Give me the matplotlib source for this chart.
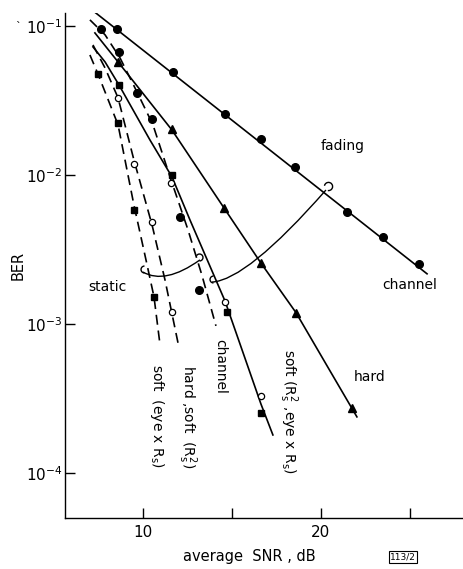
import numpy as np
import matplotlib
matplotlib.use('Agg')
import matplotlib.pyplot as plt
from matplotlib.path import Path
from matplotlib.patches import PathPatch
from matplotlib.markers import MarkerStyle

plt.rcParams['font.family'] = ['DejaVu Sans']
plt.rcParams['mathtext.default'] = 'regular'

# ---------------- data (SNR in dB, BER) ----------------
# fading channel, solid line, filled circles
fade_ch_curve_snr = [7.13, 25.96]
fade_ch_curve_ber = [0.128, 0.00217]
fade_ch_snr = [8.54, 11.69, 14.61, 16.63, 18.54, 21.46, 23.48, 25.51]
fade_ch_ber = [0.0955, 0.0491, 0.0257, 0.0175, 0.0113, 0.00565, 0.00384, 0.00253]

# fading, hard decision (triangles)
fade_hard_curve_snr = [7.30, 8.60, 10.11, 11.63, 14.55, 16.63, 18.60, 20.51, 22.02]
fade_hard_curve_ber = [0.0897, 0.0573, 0.0339, 0.0200, 0.00601, 0.00256, 0.00119, 0.000484, 0.000238]
fade_hard_snr = [8.60, 11.63, 14.55, 16.63, 18.60, 21.74]
fade_hard_ber = [0.0573, 0.0204, 0.00601, 0.00257, 0.00119, 0.000273]

# fading, soft (Rs^2, eye x Rs)
fade_soft_curve_snr = [7.19, 7.87, 8.65, 10.39, 11.63, 12.64, 14.61, 16.63, 17.30]
fade_soft_curve_ber = [0.0723, 0.0573, 0.0402, 0.01718, 0.00970, 0.00499, 0.001425, 0.000290, 0.000180]
fade_soft_rs2_snr = [11.57, 14.61, 16.63]
fade_soft_rs2_ber = [0.00883, 0.001406, 0.000329]
fade_soft_eye_snr = [8.65, 11.63, 14.72, 16.63]
fade_soft_eye_ber = [0.0402, 0.0100, 0.001205, 0.000253]

# static channel, dashed, filled circles
stat_ch_curve_snr = [7.02, 7.87, 8.71, 9.66, 10.56, 11.52, 12.53, 13.31, 14.10]
stat_ch_curve_ber = [0.1097, 0.0871, 0.0610, 0.0361, 0.0217, 0.00970, 0.00428, 0.00213, 0.000971]
stat_ch_snr = [7.64, 8.65, 9.66, 10.51, 12.08, 13.15]
stat_ch_ber = [0.0955, 0.0670, 0.0355, 0.0238, 0.00522, 0.00169]

# static, hard / soft (Rs^2), open circles
stat_hs_curve_snr = [7.19, 7.87, 8.60, 9.49, 10.51, 11.24, 11.97]
stat_hs_curve_ber = [0.0745, 0.0522, 0.0329, 0.01262, 0.00462, 0.00197, 0.000745]
stat_hs_snr = [8.60, 9.49, 10.51, 11.63]
stat_hs_ber = [0.0329, 0.01186, 0.00484, 0.001205]

# static, soft (eye x Rs), filled squares
stat_soft_curve_snr = [7.02, 7.47, 8.60, 9.49, 10.17, 10.62, 10.96]
stat_soft_curve_ber = [0.0638, 0.0476, 0.0217, 0.00630, 0.00269, 0.00152, 0.000723]
stat_soft_snr = [7.47, 8.60, 9.49, 10.62]
stat_soft_ber = [0.0476, 0.0223, 0.00582, 0.00152]

# group brackets (start, control, end)
static_bracket_snr = [10.0, 11.24, 13.20]
static_bracket_ber = [0.00223, 0.00183, 0.00269]
fading_bracket_snr = [13.88, 15.84, 20.28]
fading_bracket_ber = [0.00191, 0.00197, 0.00792]

x_ticks = [10, 15, 20, 25]
x_ticklabels = ['10', '', '20', '']
y_ticks = [1e-1, 1e-2, 1e-3, 1e-4]
y_ticklabels = ['$10^{-1}$', '$10^{-2}$', '$10^{-3}$', '$10^{-4}$']

# ---------------- figure ----------------
fig = plt.figure(figsize=(4.64, 5.69), dpi=100)
ax = fig.add_axes([65/464, 1-518/569, (463-65)/464, (518-13)/569])
ax.set_yscale('log')
ax.set_xlim(5.62, 27.98)
ax.set_ylim(4.99e-5, 0.122)

lw = 1.2
dash = (0, (6, 3.5))
k = 'black'

ax.plot(fade_ch_curve_snr, fade_ch_curve_ber, color=k, lw=lw)
ax.plot(fade_hard_curve_snr, fade_hard_curve_ber, color=k, lw=lw)
ax.plot(fade_soft_curve_snr, fade_soft_curve_ber, color=k, lw=lw)
ax.plot(stat_ch_curve_snr, stat_ch_curve_ber, color=k, lw=lw, ls=dash)
ax.plot(stat_hs_curve_snr, stat_hs_curve_ber, color=k, lw=lw, ls=dash)
ax.plot(stat_soft_curve_snr, stat_soft_curve_ber, color=k, lw=lw, ls=dash)

ax.plot(fade_ch_snr, fade_ch_ber, 'o', color=k, ms=5.5, ls='none')
ax.plot(stat_ch_snr, stat_ch_ber, 'o', color=k, ms=5.5, ls='none')
ax.plot(fade_hard_snr, fade_hard_ber, '^', color=k, ms=6, ls='none')
ax.plot(fade_soft_eye_snr, fade_soft_eye_ber, 's', color=k, ms=5, ls='none')
ax.plot(stat_soft_snr, stat_soft_ber, 's', color=k, ms=5, ls='none')
ax.plot(fade_soft_rs2_snr, fade_soft_rs2_ber, 'o', mfc='white', mec=k, mew=0.9, ms=4.5, ls='none')
ax.plot(stat_hs_snr, stat_hs_ber, 'o', mfc='white', mec=k, mew=0.9, ms=4.5, ls='none')

# brackets
for bx, by in [(static_bracket_snr, static_bracket_ber), (fading_bracket_snr, fading_bracket_ber)]:
    p = Path(list(zip(bx, by)), [Path.MOVETO, Path.CURVE3, Path.CURVE3])
    ax.add_patch(PathPatch(p, transform=ax.transData, fill=False, lw=1.0, ec=k))

def hook(x, y, t1, t2, size=5):
    m = MarkerStyle(Path.arc(t1, t2))
    ax.plot([x], [y], marker=m, ms=size, mfc='none', mec=k, mew=1.0, ls='none')

hook(static_bracket_snr[0] + 0.05, static_bracket_ber[0] * 1.05, 90, 270, 5)
hook(static_bracket_snr[2] - 0.05, static_bracket_ber[2] * 1.05, -90, 150, 5)
hook(fading_bracket_snr[0] + 0.05, fading_bracket_ber[0] * 1.05, 90, 270, 5)
hook(fading_bracket_snr[2] + 0.12, fading_bracket_ber[2] * 1.07, -100, 170, 6)

# ticks & spines
ax.set_xticks(x_ticks)
ax.set_xticklabels(x_ticklabels)
ax.set_yticks(y_ticks)
ax.set_yticklabels(y_ticklabels)
ax.yaxis.set_minor_locator(matplotlib.ticker.NullLocator())
ax.xaxis.set_minor_locator(matplotlib.ticker.NullLocator())
ax.tick_params(axis='both', direction='in', length=7, width=1.0, labelsize=11, colors=k)
ax.tick_params(axis='y', pad=2)
ax.tick_params(axis='x', pad=5)
for s in ['top', 'right']:
    ax.spines[s].set_visible(False)
for s in ['left', 'bottom']:
    ax.spines[s].set_linewidth(1.0)

# labels in plot
fs = 10
ax.text(21.24, 0.0157, 'fading', fontsize=fs, ha='center', va='center')
ax.text(25.0, 0.00183, 'channel', fontsize=fs, ha='center', va='center')
ax.text(7.98, 0.00177, 'static', fontsize=fs, ha='center', va='center')
ax.text(22.75, 0.00044, 'hard', fontsize=fs, ha='center', va='center')
ax.text(10.79, 0.000242, 'soft  (eye x R$_s$)', fontsize=fs, rotation=270, ha='center', va='center')
ax.text(12.47, 0.000238, 'hard ,soft  (R$_s^2$)', fontsize=fs, rotation=270, ha='center', va='center')
ax.text(14.33, 0.000522, 'channel', fontsize=fs, rotation=270, ha='center', va='center')
ax.text(18.15, 0.00026, 'soft (R$_s^2$ ,eye x R$_s$)', fontsize=fs, rotation=270, ha='center', va='center')

fig.text(18/464, 1-265/569, 'BER', rotation=90, fontsize=10.5, ha='center', va='center')
fig.text(249/464, 1-557/569, 'average  SNR , dB', fontsize=10.5, ha='center', va='center')
fig.text(403/464, 1-557/569, '113/2', fontsize=6.5, ha='center', va='center',
         bbox=dict(boxstyle='square,pad=0.15', fc='white', ec=k, lw=0.8))
fig.text(18/464, 1-27/569, '`', fontsize=8, ha='center', va='center')

fig.savefig('out.png', dpi=100)
